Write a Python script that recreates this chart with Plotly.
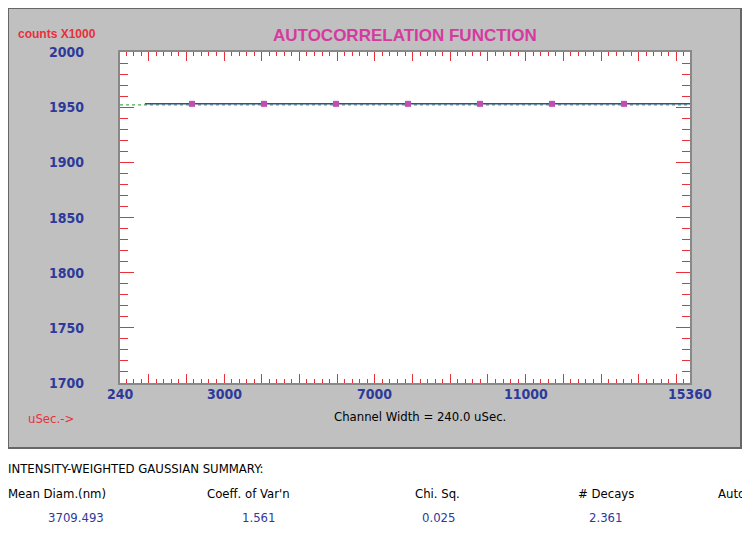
import plotly.graph_objects as go

x_pts = [2150, 4060, 5970, 7880, 9790, 11700, 13610]
y_pts = [1953, 1953, 1953, 1953, 1953, 1953, 1953]
line_x = [900, 15360]
line_y = [1953, 1953]
fit_x = [240, 15360]
fit_y = [1952, 1952]
x_labels = [240, 3000, 7000, 11000, 15360]
y_labels = [1700, 1750, 1800, 1850, 1900, 1950, 2000]
sum_heads = ["Mean Diam.(nm)", "Coeff. of Var'n", "Chi. Sq.", "# Decays", "Auto"]
sum_vals = ["3709.493", "1.561", "0.025", "2.361", ""]

W, H = 750, 537
OFF = 8  # browser body margin
def px(xp): return (xp - OFF) / W
def py(yp): return 1 - (yp - OFF) / H

fig = go.Figure()
fig.add_trace(go.Scatter(x=fit_x, y=fit_y, mode="lines", line=dict(color="#4caf50", width=1.2, dash="dot")))
fig.add_trace(go.Scatter(x=line_x, y=line_y, mode="lines", line=dict(color="#3a4aa0", width=1.5)))
fig.add_trace(go.Scatter(x=x_pts, y=y_pts, mode="markers", marker=dict(symbol="square", size=6, color="#c050b0")))

red = "#e8303a"
navy = "#2e3a9a"
fig.update_layout(
    width=W, height=H, margin=dict(l=0, r=0, t=0, b=0), showlegend=False,
    paper_bgcolor="white", plot_bgcolor="white",
    xaxis=dict(domain=[px(120), px(690)], range=[240, 15360], showgrid=False, zeroline=False,
               showticklabels=False, ticks="inside", tick0=0, dtick=1000, ticklen=9, tickcolor=red,
               minor=dict(ticks="inside", dtick=200, ticklen=4, tickcolor=red),
               showline=True, linecolor="#888", linewidth=2, mirror="ticks"),
    yaxis=dict(domain=[py(383), py(52)], range=[1700, 2000], showgrid=False, zeroline=False,
               showticklabels=False, ticks="inside", dtick=50, ticklen=14, tickcolor=red,
               minor=dict(ticks="inside", dtick=10, ticklen=8, tickcolor=red),
               showline=True, linecolor="#888", linewidth=2, mirror="ticks"),
)
fig.add_shape(type="rect", xref="paper", yref="paper", x0=px(8), x1=px(741), y0=py(448), y1=py(8),
              fillcolor="#c0c0c0", line=dict(color="#666", width=2), layer="below")
fig.add_shape(type="rect", xref="paper", yref="paper", x0=px(120), x1=px(690), y0=py(383), y1=py(52),
              fillcolor="white", line=dict(width=0), layer="below")

font_b = "DejaVu Sans Condensed, Liberation Sans Narrow, Arial Narrow, Liberation Sans, Arial"
anns = []
anns.append(dict(x=px(405), y=py(24), xref="paper", yref="paper", text="<b>AUTOCORRELATION FUNCTION</b>",
                 font=dict(family="Liberation Sans, Arial", size=17, color="#d63aa0"), showarrow=False))
anns.append(dict(x=px(16), y=py(25), xref="paper", yref="paper", xanchor="left", text="<b>counts X1000</b>",
                 font=dict(family="Liberation Sans, Arial", size=12, color=red), showarrow=False))
for v in y_labels:
    anns.append(dict(x=px(86), y=v, xref="paper", yref="y", xanchor="right", text=f"<b>{v}</b>",
                     font=dict(family=font_b, size=14, color=navy), showarrow=False))
for v in x_labels:
    anns.append(dict(x=v, y=py(404), xref="x", yref="paper", text=f"<b>{v}</b>",
                     font=dict(family=font_b, size=14, color=navy), showarrow=False))
anns.append(dict(x=px(26), y=py(428), xref="paper", yref="paper", xanchor="left", text="uSec.->",
                 font=dict(family=font_b, size=13, color=red), showarrow=False))
anns.append(dict(x=px(420), y=py(426), xref="paper", yref="paper", text="Channel Width = 240.0 uSec.",
                 font=dict(family=font_b, size=13, color="black"), showarrow=False))
anns.append(dict(x=px(6), y=py(478), xref="paper", yref="paper", xanchor="left", text="INTENSITY-WEIGHTED GAUSSIAN SUMMARY:",
                 font=dict(family=font_b, size=13, color="black"), showarrow=False))
hx = [6, 205, 413, 576, 716]
vx = [46, 240, 420, 587, 0]
for xh, xv, h, v in zip(hx, vx, sum_heads, sum_vals):
    anns.append(dict(x=px(xh), y=py(503), xref="paper", yref="paper", xanchor="left", text=h,
                     font=dict(family=font_b, size=13, color="black"), showarrow=False))
    if v:
        anns.append(dict(x=px(xv), y=py(527), xref="paper", yref="paper", xanchor="left", text=v,
                         font=dict(family=font_b, size=13, color=navy), showarrow=False))
fig.update_layout(annotations=anns)
fig.write_html("out.html")
